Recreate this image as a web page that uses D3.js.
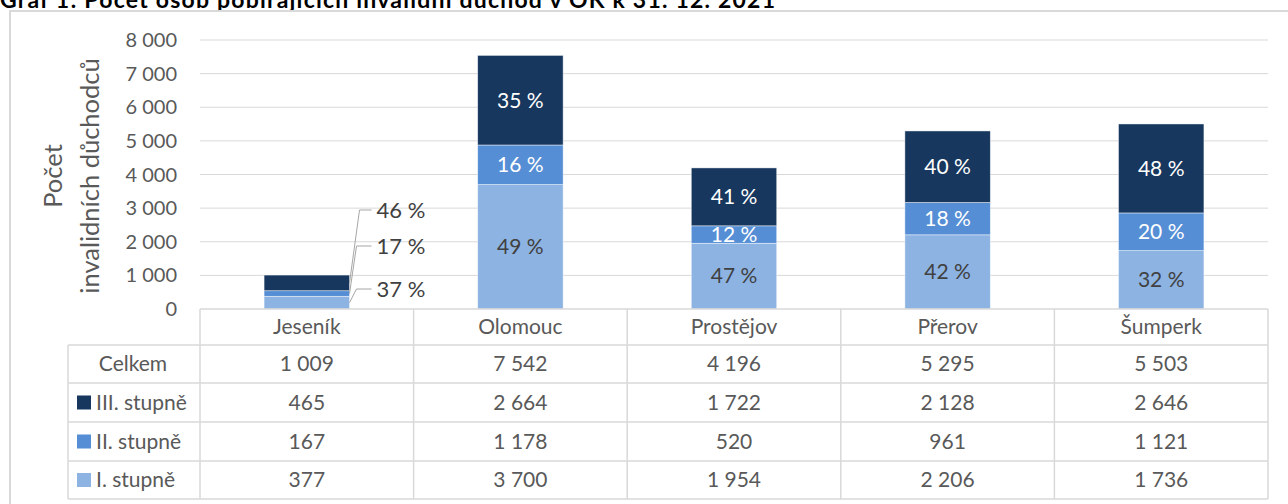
<!DOCTYPE html>
<html>
<head>
<meta charset="utf-8">
<script src="https://cdn.jsdelivr.net/npm/d3@7"></script>
<style>
  body { margin: 0; background: #fff; }
  svg { display: block; }
  text { font-family: Lato, 'Open Sans', sans-serif; }
</style>
</head>
<body>
<div id="chart"></div>
<script>
(function(window, d3){
  'use strict';

  var categories = ['Jeseník', 'Olomouc', 'Prostějov', 'Přerov', 'Šumperk'];
  var stupen1 = [377, 3700, 1954, 2206, 1736];
  var stupen2 = [167, 1178, 520, 961, 1121];
  var stupen3 = [465, 2664, 1722, 2128, 2646];
  var celkem = [1009, 7542, 4196, 5295, 5503];
  var seriesNames = ['III. stupně', 'II. stupně', 'I. stupně'];
  var yTicks = [0, 1000, 2000, 3000, 4000, 5000, 6000, 7000, 8000];

  var colors = { s1: '#8db3e2', s2: '#558ed5', s3: '#17375e' };
  var grey = '#595959';
  var lineCol = '#d9d9d9';

  var width = 1288, height = 504;
  var fmt = d3.formatLocale({ decimal: ',', thousands: ' ', grouping: [3], currency: ['', ' Kč'] }).format(',d');

  var svg = d3.select('#chart').append('svg')
    .attr('width', width)
    .attr('height', height);

  // title, cut off at the top like the source
  svg.append('text')
    .attr('x', 0)
    .attr('y', 8)
    .attr('font-size', 23)
    .attr('font-weight', 'bold')
    .attr('fill', '#000')
    .attr('textLength', 775)
    .attr('lengthAdjust', 'spacing')
    .text('Graf 1: Počet osob pobírajících invalidní důchod v OK k 31. 12. 2021');

  svg.append('rect')
    .attr('x', 10).attr('y', 11)
    .attr('width', 1400).attr('height', 600)
    .attr('fill', 'none')
    .attr('stroke', lineCol)
    .attr('stroke-width', 2);

  var x = d3.scaleBand()
    .domain(categories)
    .range([200, 1268])
    .paddingInner(0.6)
    .paddingOuter(0.3);

  var y = d3.scaleLinear()
    .domain([0, 8000])
    .range([309, 40]);

  var step = x.step();
  var colLeft = function(d) { return x(d) - x.paddingOuter() * step; };

  // grid
  svg.append('g').attr('class', 'grid')
    .selectAll('line')
    .data(yTicks.slice(1))
    .enter().append('line')
    .attr('x1', 200).attr('x2', 1268)
    .attr('y1', function(d) { return y(d); })
    .attr('y2', function(d) { return y(d); })
    .attr('stroke', lineCol)
    .attr('stroke-width', 1);

  svg.append('g').attr('class', 'y axis')
    .selectAll('text')
    .data(yTicks)
    .enter().append('text')
    .attr('x', 177)
    .attr('y', function(d) { return y(d); })
    .attr('dy', '0.35em')
    .attr('text-anchor', 'end')
    .attr('font-size', 20)
    .attr('fill', grey)
    .text(fmt);

  var ytitle = svg.append('text')
    .attr('transform', 'translate(62,176) rotate(-90)')
    .attr('text-anchor', 'middle')
    .attr('font-size', 25.5)
    .attr('fill', grey);
  ytitle.append('tspan').attr('x', 0).attr('dy', 0).text('Počet');
  ytitle.append('tspan').attr('x', 0).attr('dy', 37).text('invalidních důchodců');

  // stacked bars
  var rows = categories.map(function(c, i) {
    return { cat: c, s1: stupen1[i], s2: stupen2[i], s3: stupen3[i], total: celkem[i] };
  });
  var stack = d3.stack().keys(['s1', 's2', 's3'])(rows);

  var layer = svg.append('g').attr('class', 'bars')
    .selectAll('g')
    .data(stack)
    .enter().append('g')
    .attr('fill', function(d) { return colors[d.key]; });

  layer.selectAll('rect')
    .data(function(d) { return d; })
    .enter().append('rect')
    .attr('x', function(d) { return x(d.data.cat); })
    .attr('width', x.bandwidth())
    .attr('y', function(d) { return y(d[1]); })
    .attr('height', function(d) { return y(d[0]) - y(d[1]); })
    .attr('stroke', '#fff')
    .attr('stroke-opacity', 0.6)
    .attr('stroke-width', 0.75);

  var pct = function(d, key) { return Math.round(d.data[key] / d.data.total * 100) + ' %'; };

  // labels inside bars (not Jeseník)
  layer.each(function(s) {
    d3.select(this).selectAll('text')
      .data(s.filter(function(d) { return d.data.cat !== 'Jeseník'; }))
      .enter().append('text')
      .attr('x', function(d) { return x(d.data.cat) + x.bandwidth() / 2; })
      .attr('y', function(d) { return (y(d[0]) + y(d[1])) / 2; })
      .attr('dy', '0.35em')
      .attr('text-anchor', 'middle')
      .attr('font-size', 21)
      .attr('fill', s.key === 's1' ? '#404040' : '#fff')
      .text(function(d) { return pct(d, s.key); });
  });

  // Jeseník callouts
  var jes = stack.map(function(s) { return { key: s.key, d: s[0] }; });
  var calloutY = { s3: 210, s2: 246, s1: 289 };
  var bx = x('Jeseník') + x.bandwidth();
  var callouts = svg.append('g').attr('class', 'callouts')
    .selectAll('g')
    .data(jes)
    .enter().append('g');

  callouts.append('polyline')
    .attr('points', function(c) {
      var ly = calloutY[c.key];
      var my = (y(c.d[0]) + y(c.d[1])) / 2;
      var kx = c.key === 's3' ? bx + 10 : bx + 7;
      return [[bx, my], [kx, ly], [bx + 22, ly]].join(' ');
    })
    .attr('fill', 'none')
    .attr('stroke', '#a6a6a6')
    .attr('stroke-width', 1);

  callouts.append('text')
    .attr('x', bx + 27)
    .attr('y', function(c) { return calloutY[c.key]; })
    .attr('dy', '0.35em')
    .attr('font-size', 22)
    .attr('fill', '#404040')
    .text(function(c) { return pct(c.d, c.key); });

  // data table
  var rowY = [309, 345, 383, 422, 461, 499];
  var table = svg.append('g').attr('class', 'table');
  var hline = function(x1, x2, yy) {
    table.append('line').attr('x1', x1).attr('x2', x2).attr('y1', yy).attr('y2', yy)
      .attr('stroke', lineCol).attr('stroke-width', 1.5);
  };
  var vline = function(xx, y1, y2) {
    table.append('line').attr('x1', xx).attr('x2', xx).attr('y1', y1).attr('y2', y2)
      .attr('stroke', lineCol).attr('stroke-width', 1.5);
  };
  hline(200, 1268, rowY[0]);
  rowY.slice(1).forEach(function(r) { hline(68, 1268, r); });
  vline(68, rowY[1], rowY[5]);
  categories.forEach(function(c) { vline(colLeft(c), rowY[0], rowY[5]); });
  vline(1268, rowY[0], rowY[5]);

  var tableRows = [
    { label: 'Celkem', values: celkem, key: null },
    { label: seriesNames[0], values: stupen3, key: 's3' },
    { label: seriesNames[1], values: stupen2, key: 's2' },
    { label: seriesNames[2], values: stupen1, key: 's1' }
  ];

  table.selectAll('text.cat')
    .data(categories)
    .enter().append('text')
    .attr('class', 'cat')
    .attr('x', function(d) { return x(d) + x.bandwidth() / 2; })
    .attr('y', (rowY[0] + rowY[1]) / 2)
    .attr('dy', '0.35em')
    .attr('text-anchor', 'middle')
    .attr('font-size', 21)
    .attr('fill', grey)
    .text(String);

  var tr = table.selectAll('g.row')
    .data(tableRows)
    .enter().append('g')
    .attr('class', 'row')
    .attr('transform', function(d, i) { return 'translate(0,' + ((rowY[i + 1] + rowY[i + 2]) / 2) + ')'; });

  tr.filter(function(d) { return !d.key; }).append('text')
    .attr('x', 133)
    .attr('dy', '0.35em')
    .attr('text-anchor', 'middle')
    .attr('font-size', 21)
    .attr('fill', grey)
    .text(function(d) { return d.label; });

  var keyed = tr.filter(function(d) { return d.key; });
  keyed.append('rect')
    .attr('x', 77).attr('y', -7)
    .attr('width', 14).attr('height', 14)
    .attr('fill', function(d) { return colors[d.key]; });
  keyed.append('text')
    .attr('x', 96)
    .attr('dy', '0.35em')
    .attr('font-size', 21)
    .attr('fill', grey)
    .text(function(d) { return d.label; });

  tr.selectAll('text.val')
    .data(function(d) { return d.values; })
    .enter().append('text')
    .attr('class', 'val')
    .attr('x', function(d, i) { return x(categories[i]) + x.bandwidth() / 2; })
    .attr('dy', '0.35em')
    .attr('text-anchor', 'middle')
    .attr('font-size', 21)
    .attr('fill', grey)
    .text(fmt);

})(window, window.d3);
</script>
</body>
</html>
